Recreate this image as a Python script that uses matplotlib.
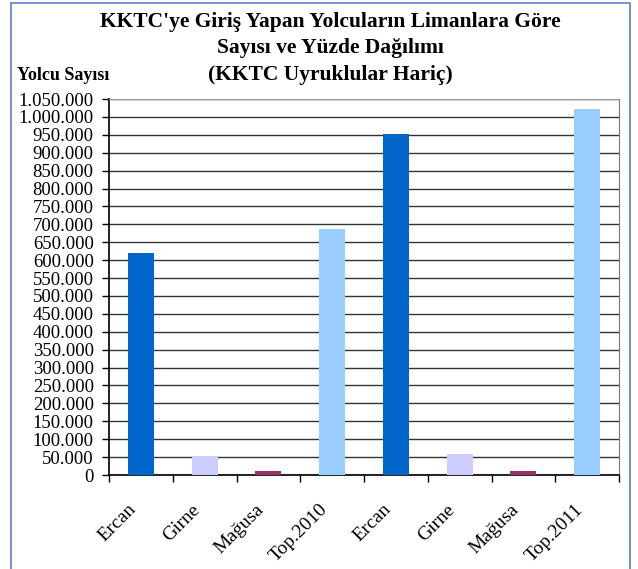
import matplotlib
matplotlib.use("Agg")
from matplotlib import pyplot as plt
from matplotlib.patches import Rectangle
from matplotlib.ticker import FuncFormatter, MultipleLocator
from matplotlib.transforms import ScaledTranslation

# data
limanlar = ["Ercan", "Girne", "Mağusa", "Top.2010", "Ercan", "Girne", "Mağusa", "Top.2011"]
yolcu = [620000, 54000, 11000, 686000, 951000, 60000, 11000, 1022000]
renkler = ["#0066CC", "#CCCCFF", "#993366", "#99CCFF", "#0066CC", "#CCCCFF", "#993366", "#99CCFF"]

plt.rcParams["font.family"] = ["Liberation Serif", "DejaVu Serif"]

fig = plt.figure(figsize=(6.38, 5.69), dpi=100)
ax = fig.add_axes([109 / 638, 1 - 475 / 569, (619 - 109) / 638, (475 - 99) / 569])

x = list(range(len(limanlar)))
ax.bar(x, yolcu, width=0.41, color=renkler, zorder=3)

ax.set_xlim(-0.5, len(limanlar) - 0.5)
ax.set_ylim(0, 1050000)
ax.yaxis.set_major_locator(MultipleLocator(50000))
ax.yaxis.set_major_formatter(FuncFormatter(lambda v, p: "{:,.0f}".format(v).replace(",", ".")))
ax.grid(axis="y", color="#333333", linewidth=1.0, zorder=1)

# ticks on category boundaries, labels as rotated texts below each bar
ax.set_xticks([i - 0.5 for i in range(len(limanlar) + 1)])
ax.set_xticklabels([])
ax.tick_params(axis="x", length=5, width=1, direction="out")
ax.tick_params(axis="y", length=5, width=1, direction="out", labelsize=13.5, pad=6)

kaydir = ScaledTranslation(-13 / 100, -26 / 100, fig.dpi_scale_trans)
for xi, ad in zip(x, limanlar):
    ax.text(xi, 0, ad, transform=ax.get_xaxis_transform() + kaydir,
            rotation=45, ha="right", va="top", rotation_mode="anchor", fontsize=14)

ax.spines["top"].set_color("#999999")
ax.spines["right"].set_color("#777777")
ax.spines["left"].set_linewidth(1.2)
ax.spines["bottom"].set_linewidth(1.2)

fig.text(330 / 638, 1 - 22 / 569, "KKTC'ye Giriş Yapan Yolcuların Limanlara Göre", ha="center", va="center",
         fontsize=15.5, fontweight="bold")
fig.text(330 / 638, 1 - 48 / 569, "Sayısı ve Yüzde Dağılımı", ha="center", va="center",
         fontsize=15.5, fontweight="bold")
fig.text(330 / 638, 1 - 75 / 569, "(KKTC Uyruklular Hariç)", ha="center", va="center",
         fontsize=15.5, fontweight="bold")
fig.text(17 / 638, 1 - 75 / 569, "Yolcu Sayısı", ha="left", va="center",
         fontsize=13, fontweight="bold")

fig.patches.append(Rectangle((11 / 638, -0.01), (630 - 11) / 638, 1 - 3 / 569 + 0.01,
                             transform=fig.transFigure, fill=False,
                             edgecolor="#5B7FD8", linewidth=1.2))

fig.savefig("out.png", dpi=100)
